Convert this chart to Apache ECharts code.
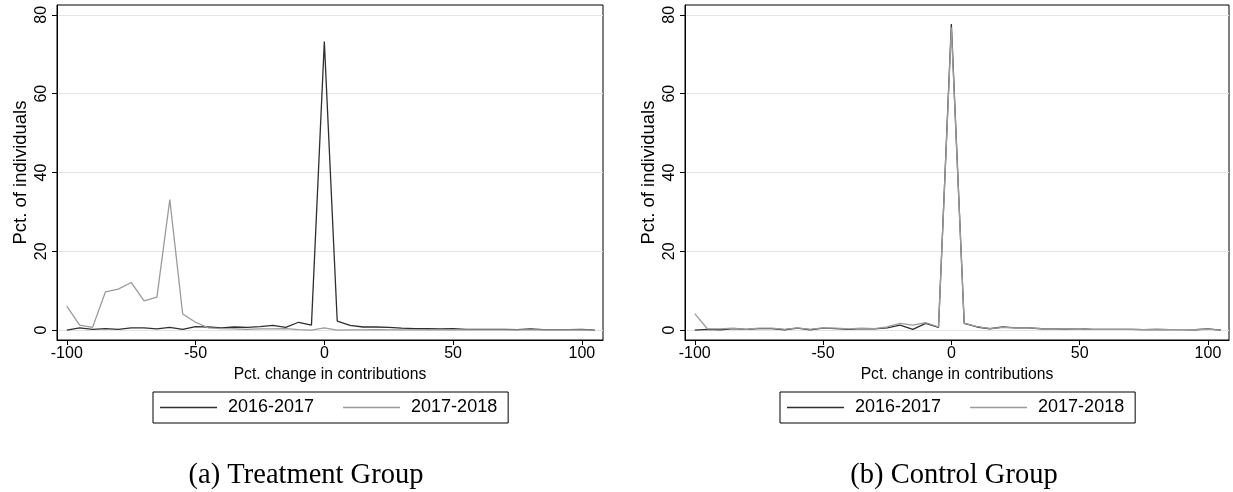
<!DOCTYPE html>
<html>
<head>
<meta charset="utf-8">
<script src="https://cdn.jsdelivr.net/npm/echarts@6/dist/echarts.min.js"></script>
<style>
html,body{margin:0;padding:0;background:#fff;}
#c{width:1233px;height:492px;}
</style>
</head>
<body>
<div id="c"></div>
<script>
// Bins of percentage change (x values)
const bins = [-100,-95,-90,-85,-80,-75,-70,-65,-60,-55,-50,-45,-40,-35,-30,-25,-20,-15,-10,-5,0,5,10,15,20,25,30,35,40,45,50,55,60,65,70,75,80,85,90,95,100,105];

// Treatment group
const treat1617 = [0.0,0.6,0.2,0.4,0.2,0.6,0.6,0.3,0.7,0.2,0.9,0.8,0.6,0.8,0.7,0.9,1.2,0.7,2.0,1.3,73.2,2.3,1.2,0.8,0.8,0.7,0.5,0.4,0.35,0.3,0.35,0.2,0.2,0.2,0.2,0.15,0.3,0.15,0.15,0.15,0.2,0.0];
const treat1718 = [6.1,1.3,0.7,9.7,10.4,12.1,7.4,8.4,33.1,4.1,2.0,0.6,0.4,0.3,0.2,0.3,0.3,0.4,0.15,0.0,0.6,0.0,0.05,0.05,0.1,0.05,0.05,0.05,0.05,0.05,0.1,0.05,0.05,0.05,0.05,0.05,0.05,0.05,0.05,0.05,0.05,0.0];

// Control group
const ctrl1617 = [0.0,0.2,0.1,0.4,0.2,0.4,0.4,0.1,0.5,0.1,0.5,0.4,0.2,0.4,0.3,0.6,1.3,0.2,1.7,0.7,77.7,1.7,0.8,0.35,0.8,0.6,0.6,0.35,0.3,0.25,0.4,0.2,0.2,0.2,0.2,0.15,0.2,0.15,0.15,0.1,0.3,0.0];
const ctrl1718 = [4.2,0.3,0.3,0.5,0.2,0.5,0.5,0.2,0.6,0.2,0.6,0.5,0.3,0.5,0.4,0.8,1.7,1.3,1.9,0.8,76.8,1.8,0.9,0.4,0.7,0.6,0.6,0.4,0.3,0.3,0.35,0.2,0.2,0.2,0.2,0.15,0.2,0.15,0.15,0.1,0.25,0.0];

// Tick labels
const xTicks = [-100,-50,0,50,100];
const yTicks = [0,20,40,60,80];

const seriesNames = ['2016-2017','2017-2018'];
const captions = ['(a) Treatment Group','(b) Control Group'];
const xTitle = 'Pct. change in contributions';
const yTitle = 'Pct. of individuals';

const pairs = arr => bins.map((b,i)=>[b,arr[i]]);
const DARK = '#2f2f2f', LIGHT = '#9b9b9b';
const SANS = 'Liberation Sans, Arial, sans-serif';

function xAxis(gi){
  return {
    gridIndex: gi, type:'value', min:-103.8, max:108.2,
    axisLine:{show:true,onZero:false,lineStyle:{color:'#000',width:1}},
    axisTick:{show:true,length:5,customValues:xTicks,lineStyle:{color:'#000',width:1}},
    axisLabel:{customValues:xTicks,fontFamily:SANS,fontSize:16,color:'#000',margin:6},
    splitLine:{show:false},
    name:xTitle,nameLocation:'middle',nameGap:26,
    nameTextStyle:{fontFamily:SANS,fontSize:15.7,color:'#000'}
  };
}
function yAxis(gi){
  return {
    gridIndex: gi, type:'value', min:-2.5, max:82.5,
    axisLine:{show:true,onZero:false,lineStyle:{color:'#000',width:1}},
    axisTick:{show:true,length:5,customValues:yTicks,lineStyle:{color:'#000',width:1}},
    axisLabel:{customValues:yTicks,rotate:90,fontFamily:SANS,fontSize:16,color:'#000',margin:7},
    splitLine:{show:true,lineStyle:{color:'#e4e4e4',width:1.2}},
    name:yTitle,nameLocation:'middle',nameGap:27,
    nameTextStyle:{fontFamily:SANS,fontSize:18.5,color:'#000'}
  };
}
function line(name,data,gi,color){
  return {name,type:'line',xAxisIndex:gi,yAxisIndex:gi,data:pairs(data),
    showSymbol:false,symbol:'none',animation:false,
    lineStyle:{color,width:1.3},itemStyle:{color}};
}
function legend(left){
  return {left,top:392,orient:'horizontal',data:seriesNames,
    icon:'rect',itemWidth:57,itemHeight:1.3,itemGap:29,
    borderColor:'#000',borderWidth:1,borderRadius:0,padding:[6,11,6,7],
    textStyle:{fontFamily:SANS,fontSize:18,color:'#000',lineHeight:19,padding:[0,0,0,6]},
    selectedMode:false};
}

const chart = echarts.init(document.getElementById('c'),null,{renderer:'canvas'});
chart.setOption({
  animation:false,
  backgroundColor:'#fff',
  grid:[
    {left:57,right:630,top:5,bottom:152,show:true,borderColor:'#000',borderWidth:1,containLabel:false},
    {left:685,right:4,top:5,bottom:152,show:true,borderColor:'#000',borderWidth:1,containLabel:false}
  ],
  xAxis:[xAxis(0),xAxis(1)],
  yAxis:[yAxis(0),yAxis(1)],
  legend:[legend(153),legend(780)],
  series:[
    line(seriesNames[0],treat1617,0,DARK),
    line(seriesNames[1],treat1718,0,LIGHT),
    line(seriesNames[0],ctrl1617,1,DARK),
    line(seriesNames[1],ctrl1718,1,LIGHT)
  ],
  graphic:[
    {type:'text',style:{text:captions[0],x:306,y:476,align:'center',verticalAlign:'middle',font:'28.5px "Liberation Serif", serif',fill:'#000'}},
    {type:'text',style:{text:captions[1],x:954,y:476,align:'center',verticalAlign:'middle',font:'28.5px "Liberation Serif", serif',fill:'#000'}}
  ]
});
</script>
</body>
</html>
